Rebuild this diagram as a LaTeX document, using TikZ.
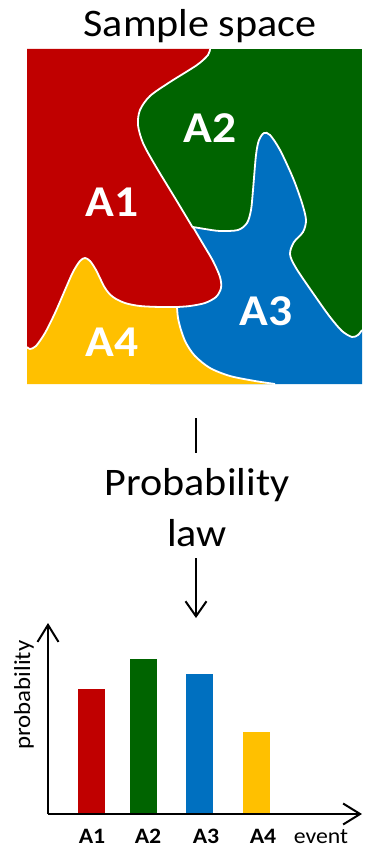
\documentclass[tikz,border=0pt]{standalone}
\usepackage{fontspec}
\setmainfont{Carlito}[FakeStretch=1.08]
\usetikzlibrary{arrows.meta}
\definecolor{cred}{HTML}{C00000}
\definecolor{cgreen}{HTML}{006400}
\definecolor{cblue}{HTML}{0070C0}
\definecolor{cyellow}{HTML}{FFC000}
\def\cRG{-- plot[smooth] coordinates {(210,49) (208,55) (197,65) (170,82) (150,96) (140,110) (138,125) (143,143) (155,165) (175,198) (193,228)}}
\def\cGB{-- plot[smooth] coordinates {(193,227) (205,229) (220,231) (238,230) (247,223) (251,210) (253,190) (256,155) (259,140) (264,133) (270,135) (280,150) (293,178) (302,203) (306,220) (303,232) (294,242) (290,254) (296,268) (315,296) (330,317) (342,331) (352,337) (358,335) (362,330)}}
\def\cRB{-- plot[smooth] coordinates {(193,227) (203,244) (213,261) (220,277) (221,288) (216,297) (205,303) (190,306) (177,307)}}
\def\cRY{-- plot[smooth] coordinates {(177,307) (160,307) (140,306) (125,303) (113,297) (105,288) (96,270) (90,261) (85,258) (80,261) (73,272) (65,290) (55,313) (45,333) (36,346) (30,349) (27,347)}}
\def\cYB{-- plot[smooth] coordinates {(177,307) (178,318) (181,330) (186,343) (195,356) (210,368) (230,376) (255,381) (275,384)}}
\begin{document}
\begin{tikzpicture}[x=1pt,y=-1pt,
  bnd/.style={draw=white,line width=1.8pt},
  region/.style={text=white,font=\fontsize{44}{44}\selectfont\bfseries},
  bigtext/.style={font=\fontsize{39}{51}\selectfont},
  conn/.style={line width=2pt},
  axisline/.style={line width=2pt,-{Straight Barb[length=17pt,width=21pt]}},
  evlabel/.style={anchor=base,inner sep=0pt,font=\fontsize{22}{22}\selectfont\bfseries}]
\useasboundingbox (0,0) rectangle (366,848);
% title
\node[bigtext,anchor=base] (title) at (200,37) {Sample space};
% sample space regions
\fill[cgreen] (27,49) rectangle (362,384);
\fill[cblue] (193,227) \cGB -- (362,384) -- (150,384) -- (150,240) -- cycle;
\fill[cyellow] (177,307) \cYB -- (27,384) -- (27,250) -- (177,250) -- cycle;
\fill[cred] (27,49) -- (210,49) \cRG \cRB \cRY -- cycle;
\draw[bnd] (210,49) \cRG;
\draw[bnd] (193,227) \cGB;
\draw[bnd] (193,227) \cRB;
\draw[bnd] (177,307) \cRY;
\draw[bnd] (177,307) \cYB;
\node[region] (a1) at (112,202) {A1};
\node[region] (a2) at (210,128) {A2};
\node[region] (a3) at (266,311) {A3};
\node[region] (a4) at (112,342) {A4};
% probability law
\node[bigtext,align=center,anchor=base] (law) at (197,546) {Probability\\law};
\coordinate (l1) at (196,418);
\coordinate (l2) at (196,453);
\coordinate (l3) at (196,558);
\coordinate (l4) at (196,618);
\draw[conn] (l1) -- (l2);
\draw[conn,-{Straight Barb[length=15pt,width=21pt]}] (l3) -- (l4);
% chart
\coordinate (o) at (48,814);
\coordinate (ytip) at (48,623);
\coordinate (xtip) at (362,814);
\fill[cred] (78,689) rectangle (105,814);
\fill[cgreen] (130,659) rectangle (157,814);
\fill[cblue] (186,674) rectangle (213,814);
\fill[cyellow] (243,732) rectangle (270,814);
\draw[axisline] (o) -- (ytip);
\draw[axisline] (o) -- (xtip);
\node[evlabel] (e1) at (92,843) {A1};
\node[evlabel] (e2) at (148,843) {A2};
\node[evlabel] (e3) at (206,843) {A3};
\node[evlabel] (e4) at (263,843) {A4};
\node[anchor=base,inner sep=0pt,font=\fontsize{22}{22}\selectfont] (ev) at (321,843) {event};
\node[rotate=90,font=\fontsize{23}{23}\selectfont] (pr) at (24,695) {probability};
\end{tikzpicture}
\end{document}
